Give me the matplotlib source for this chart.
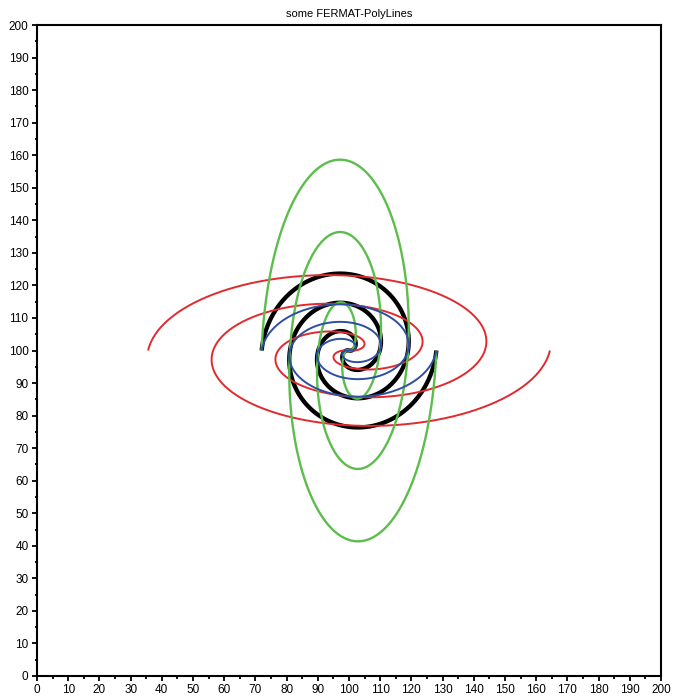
import numpy as np
import matplotlib
matplotlib.use("Agg")
import matplotlib.pyplot as plt
from matplotlib.ticker import MultipleLocator

# Spiral parameters
center = (100.0, 100.0)
r_max = 28.0                 # radius at the end of each arm
theta_end = 4 * np.pi        # end angle of an arm (pointing right)
theta_span = 9.7             # angular length of an arm (radians)
n_points = 800

# per-curve scaling (x scale, y scale), colour, line width
curve_names = ["black", "red", "green", "blue"]
scale_x = [1.0, 2.3, 1.0, 1.0]
scale_y = [1.0, 0.98, 2.48, 0.6]
colors = ["#000000", "#e12a2e", "#5dbd4c", "#2c4f9f"]
widths = [3.1, 1.4, 1.7, 1.4]

title = "some FERMAT-PolyLines"
xticks = list(range(0, 201, 10))
yticks = list(range(0, 201, 10))

plt.rcParams['font.family'] = ['Liberation Sans', 'DejaVu Sans']
fig = plt.figure(figsize=(6.75, 6.97), dpi=100)
ax = fig.add_axes([37 / 675, 21 / 697, (661 - 37) / 675, (676 - 25) / 697])

t = np.linspace(theta_end - theta_span, theta_end, n_points)
r = r_max * (t - (theta_end - theta_span)) / theta_span
for sx, sy, c, lw in zip(scale_x, scale_y, colors, widths):
    x1 = center[0] + sx * r * np.cos(t)
    y1 = center[1] + sy * r * np.sin(t)
    x2 = center[0] - sx * r * np.cos(t)
    y2 = center[1] - sy * r * np.sin(t)
    x = np.concatenate([x2[::-1], x1])
    y = np.concatenate([y2[::-1], y1])
    ax.plot(x, y, color=c, lw=lw, solid_capstyle="butt")

ax.set_xlim(0, 200)
ax.set_ylim(0, 200)
ax.set_xticks(xticks)
ax.set_yticks(yticks)
ax.xaxis.set_minor_locator(MultipleLocator(5))
ax.yaxis.set_minor_locator(MultipleLocator(5))
ax.tick_params(which="major", length=3.6, width=1.3, labelsize=8.5, pad=2.5, direction="out")
ax.tick_params(which="minor", length=1.8, width=1.3, direction="out")
for s in ax.spines.values():
    s.set_linewidth(1.5)
ax.set_title(title, fontsize=8, pad=6)

fig.savefig("out.png", dpi=100)
